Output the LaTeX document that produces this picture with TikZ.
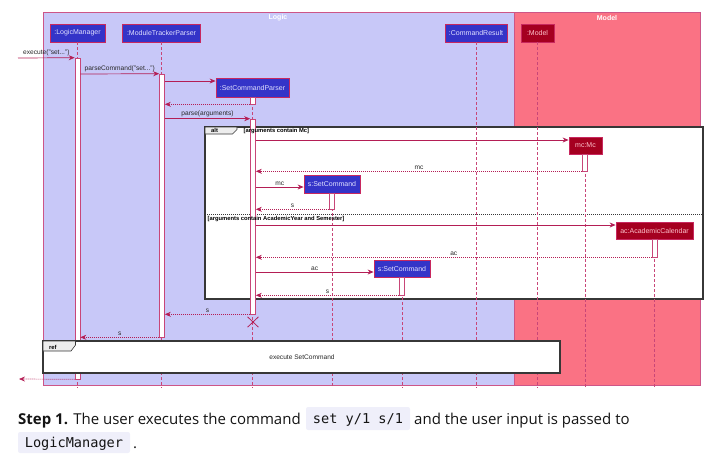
\documentclass[tikz,border=0pt]{standalone}
\usepackage{fontspec}
\setmainfont{Liberation Sans}
\newfontfamily\bodyfont{Open Sans}
\newfontfamily\codefont{DejaVu Sans Mono}
\usetikzlibrary{arrows.meta,shapes.misc}
\definecolor{logicbg}{RGB}{200,200,248}
\definecolor{modelbg}{RGB}{250,114,132}
\definecolor{framec}{RGB}{205,85,135}
\definecolor{lifec}{RGB}{200,70,120}
\definecolor{msgc}{RGB}{180,30,85}
\definecolor{lbox}{RGB}{52,52,200}
\definecolor{ltext}{RGB}{225,225,255}
\definecolor{mboxc}{RGB}{165,0,32}
\definecolor{mtext}{RGB}{255,195,205}
\definecolor{boxborder}{RGB}{200,40,95}
\definecolor{lblc}{RGB}{40,40,40}
\definecolor{altc}{RGB}{55,55,55}
\definecolor{codebg}{RGB}{239,239,250}
\definecolor{bodyc}{RGB}{20,20,20}
\tikzset{
  msg/.style={draw=msgc, line width=0.7pt, -{Stealth[length=6pt,width=5pt]}},
  ret/.style={msg, dash pattern=on 1pt off 1pt},
  life/.style={draw=lifec, line width=0.6pt, dash pattern=on 2.5pt off 2.5pt},
  act/.style={rectangle, draw=lifec, fill=white, line width=0.6pt, minimum width=5pt, inner sep=0pt},
  lhead/.style={rectangle, draw=boxborder, fill=lbox, text=ltext, line width=0.8pt, inner sep=0pt, font=\fontsize{7}{8}\selectfont},
  mhead/.style={rectangle, draw=boxborder, fill=mboxc, text=mtext, line width=0.8pt, inner sep=0pt, font=\fontsize{7}{8}\selectfont},
  lbl/.style={font=\fontsize{6.6}{7}\selectfont, text=lblc, inner sep=1.2pt, above},
  guard/.style={font=\bfseries\fontsize{5.8}{6}\selectfont, text=black, inner sep=0pt, anchor=west},
  ftitle/.style={font=\bfseries\fontsize{7}{8}\selectfont, text=white, inner sep=0pt},
  bodytxt/.style={font=\bodyfont\fontsize{15}{18}\selectfont, text=bodyc, inner sep=0pt, anchor=base west},
  codetxt/.style={font=\codefont\fontsize{13.6}{16}\selectfont, text=bodyc, inner sep=0pt, anchor=base},
}
\begin{document}
\begin{tikzpicture}[x=1pt,y=-1pt]
\useasboundingbox (0,0) rectangle (719,464);
% frames
\draw[framec, fill=logicbg, line width=0.7pt] (43,12) rectangle (514,385);
\draw[framec, fill=modelbg, line width=0.7pt] (514,12) rectangle (700,385);
\node[ftitle] (tlogic) at (278,18) {Logic};
\node[ftitle] (tmodel) at (607,18) {Model};
% alt frame
\draw[altc, fill=white, line width=1.1pt] (205,127) rectangle (703,299);
\draw[altc, fill=black!7, line width=0.6pt] (205,127) -- (237,127) -- (237,129.5) -- (232.5,134) -- (205,134) -- cycle;
\node[guard, anchor=west] (altl) at (211,130.8) {alt};
\draw[altc, line width=0.6pt, dash pattern=on 1pt off 1pt] (205,214.5) -- (703,214.5);
% participants
\node[lhead, minimum width=55, minimum height=18] (lm) at (77.5,33) {:LogicManager};
\node[lhead, minimum width=78, minimum height=18] (mtp) at (161.5,33) {:ModuleTrackerParser};
\node[lhead, minimum width=62, minimum height=18] (cr) at (476,33) {:CommandResult};
\node[mhead, minimum width=33, minimum height=18] (model) at (537.5,33) {:Model};
\node[lhead, minimum width=73, minimum height=19] (scp) at (252.5,87.5) {:SetCommandParser};
\node[mhead, minimum width=33, minimum height=17] (mc) at (585.5,145.5) {mc:Mc};
\node[lhead, minimum width=56, minimum height=18] (s1) at (332,184) {s:SetCommand};
\node[mhead, minimum width=77, minimum height=17] (ac) at (654.5,230.5) {ac:AcademicCalendar};
\node[lhead, minimum width=56, minimum height=17] (s2) at (402,268.5) {s:SetCommand};
% lifelines
\coordinate (bot) at (0,388);
\foreach \p in {lm,mtp,cr,model,scp,mc,s1,ac,s2}{
  \draw[life] (\p.south) -- (\p.south |- bot);
}
% activations
\node[act, minimum height=321] (alm) at (77.5,218.5) {};
\node[act, minimum height=263] (amtp) at (162,205.5) {};
\node[act, minimum height=7] (ascp1) at (253,100.5) {};
\node[act, minimum height=195] (ascp2) at (253,216.5) {};
\node[act, minimum height=17] (amc) at (585,162.5) {};
\node[act, minimum height=16] (as1) at (332,201) {};
\node[act, minimum height=18] (aac) at (654.5,248) {};
\node[act, minimum height=18] (as2) at (402,286) {};
% guards over activations
\node[guard] (g1) at (243.5,131) {[arguments contain Mc]};
\node[guard] (g2) at (207.5,219) {[arguments contain AcademicYear and Semester]};
% message rows
\coordinate (src) at (18,58);
\coordinate (y81) at (0,81);
\coordinate (y140) at (0,140);
\coordinate (y187) at (0,187);
\coordinate (y225) at (0,225);
\coordinate (y272) at (0,272);
\coordinate (y74) at (0,74);
\coordinate (endc) at (19,379);
\draw[msg] (src) -- node[lbl] {execute("set...")} (alm.north west);
\draw[msg] (alm.east |- y74) -- node[lbl] {parseCommand("set...")} (amtp.north west);
\draw[msg] (amtp.east |- y81) -- (scp.west |- y81);
\draw[ret] (ascp1.south west) -- (amtp.east |- ascp1.south);
\draw[msg] (amtp.east |- ascp2.north) -- node[lbl] {parse(arguments)} (ascp2.north west);
\draw[msg] (ascp2.east |- y140) -- (mc.west |- y140);
\draw[ret] (amc.south west) -- node[lbl] {mc} (ascp2.east |- amc.south);
\draw[msg] (ascp2.east |- y187) -- node[lbl] {mc} (s1.west |- y187);
\draw[ret] (as1.south west) -- node[lbl] {s} (ascp2.east |- as1.south);
\draw[msg] (ascp2.east |- y225) -- (ac.west |- y225);
\draw[ret] (aac.south west) -- node[lbl] {ac} (ascp2.east |- aac.south);
\draw[msg] (ascp2.east |- y272) -- node[lbl] {ac} (s2.west |- y272);
\draw[ret] (as2.south west) -- node[lbl] {s} (ascp2.east |- as2.south);
\draw[ret] (ascp2.south west) -- node[lbl] {s} (amtp.east |- ascp2.south);
\node[cross out, draw=msgc, line width=0.8pt, minimum width=10, minimum height=9.5, inner sep=0pt] (destroy) at (253,322) {};
\draw[ret] (amtp.south west) -- node[lbl] {s} (alm.east |- amtp.south);
% ref
\draw[altc, fill=white, line width=1.1pt] (43,341) rectangle (560,373);
\draw[altc, fill=black!7, line width=0.6pt] (43,341) -- (75.5,341) -- (75.5,345) -- (71,351) -- (43,351) -- cycle;
\node[guard] (refl) at (49,347) {ref};
\node[font=\fontsize{6.6}{7}\selectfont, text=lblc, inner sep=0pt] (refbody) at (302,357.5) {execute SetCommand};
\draw[ret] (alm.south west) -- (endc);
% description text
\node[bodytxt] (step) at (18,424) {\bfseries Step 1.\mdseries{} The user executes the command};
\fill[codebg, rounded corners=2pt] (306,407) rectangle (410,430);
\node[codetxt] (code1) at (358,423.5) {set y/1 s/1};
\node[bodytxt] (rest) at (414,424) {and the user input is passed to};
\fill[codebg, rounded corners=2pt] (18,432) rectangle (130,453);
\node[codetxt] (code2) at (74,447.5) {LogicManager};
\node[bodytxt] (dot) at (133,448) {.};
\end{tikzpicture}
\end{document}
